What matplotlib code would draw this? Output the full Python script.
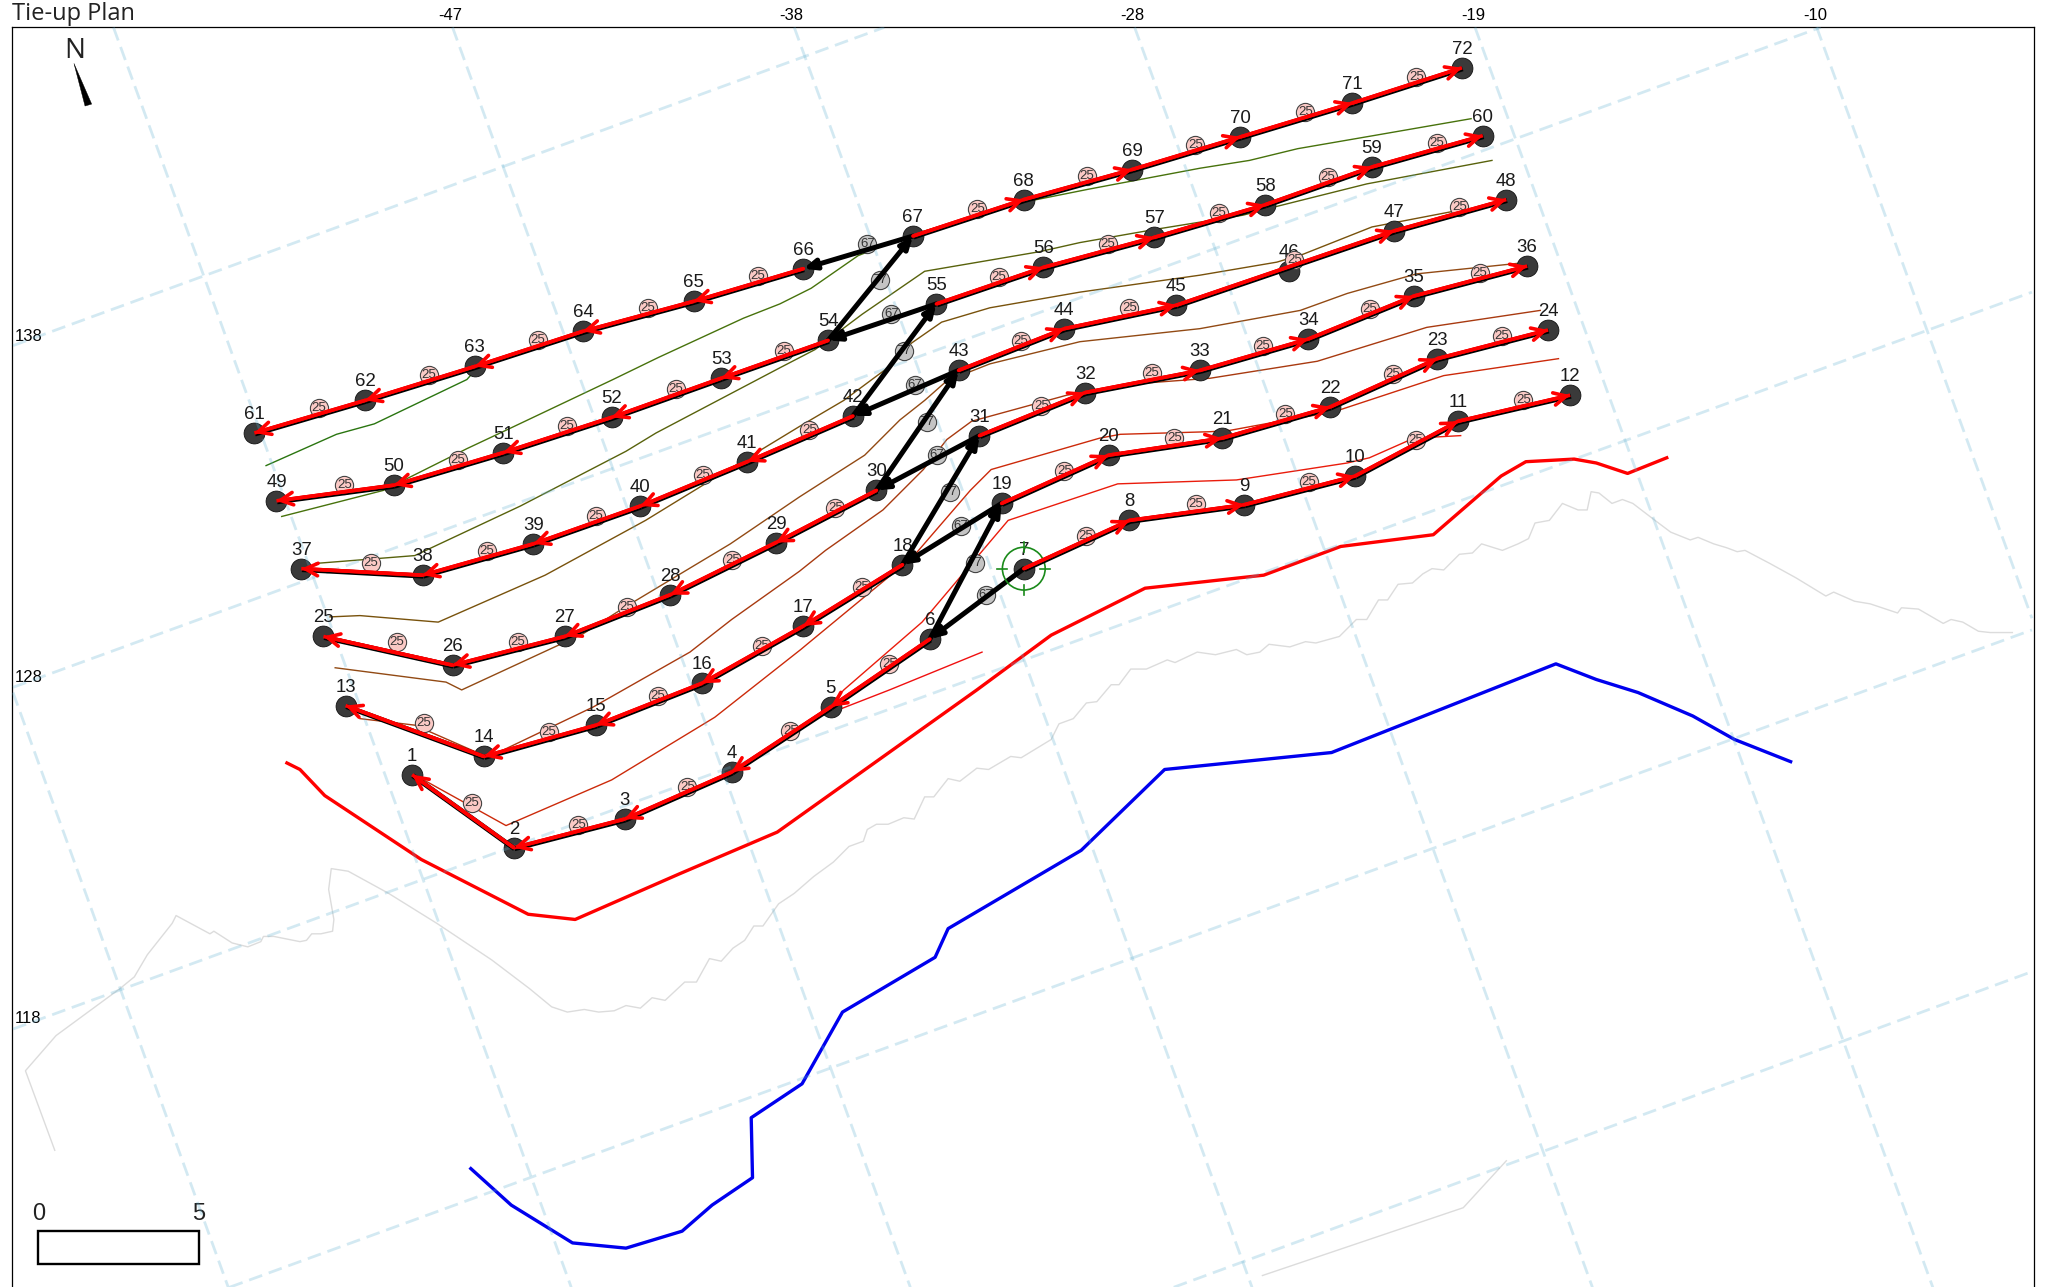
import numpy as np
import matplotlib
matplotlib.use('Agg')
import matplotlib.pyplot as plt
from matplotlib.patches import FancyArrowPatch, Rectangle, Circle, Polygon
import matplotlib.patheffects as pe

plt.rcParams['font.family'] = ['Liberation Sans', 'DejaVu Sans']

# anchor positions, index 0 is anchor 1
node_x = [316, 394, 479, 561, 637, 713, 785, 866, 954, 1039, 1118, 1204,
          265, 371, 457, 538, 616, 692, 768, 850, 937, 1020, 1102, 1187,
          248, 347, 433, 514, 595, 672, 751, 832, 920, 1003, 1084, 1171,
          231, 324, 409, 491, 573, 654, 735, 816, 902, 988, 1069, 1155,
          212, 302, 386, 469, 553, 635, 718, 800, 885, 970, 1052, 1137,
          195, 280, 364, 447, 532, 616, 700, 785, 868, 951, 1037, 1121]
node_y = [594, 650, 628, 592, 542, 490, 436, 399, 387, 365, 323, 303,
          541, 580, 556, 524, 480, 433, 386, 349, 336, 312, 275, 253,
          488, 510, 488, 456, 416, 376, 334, 301, 284, 260, 227, 204,
          436, 441, 417, 388, 354, 319, 284, 252, 234, 208, 177, 153,
          384, 372, 347, 320, 290, 261, 233, 205, 182, 157, 128, 104,
          332, 307, 281, 254, 231, 206, 181, 153, 130, 105, 79, 52]

# mooring runs (anchor numbers)
rows_right = [[7, 8, 9, 10, 11, 12], [19, 20, 21, 22, 23, 24], [31, 32, 33, 34, 35, 36],
              [43, 44, 45, 47, 48], [55, 56, 57, 58, 59, 60], [67, 68, 69, 70, 71, 72]]
rows_left = [[6, 5, 4, 3, 2, 1], [18, 17, 16, 15, 14, 13], [30, 29, 28, 27, 26, 25],
             [42, 41, 40, 39, 38, 37], [54, 53, 52, 51, 50, 49], [66, 65, 64, 63, 62, 61]]
transit = [7, 6, 19, 18, 31, 30, 43, 42, 55, 54, 67, 66]
transit_labels = ['67', '77', '67', '77', '67', '77', '67', '77', '67', '77', '67']
wire_label = '25'
target_node = 7

# tick labels
x_tick_pos = [345, 607, 868, 1130, 1392]
x_tick_labels = ['-47', '-38', '-28', '-19', '-10']
y_tick_pos = [257, 518, 780]
y_tick_labels = ['138', '128', '118']

# dashed grid, (x0, y0, x1, y1)
grid_lines = [(10, 265, 678, 21), (10, 527, 1396, 21), (10, 789, 1558, 224),
              (176, 987, 1558, 483), (900, 987, 1558, 745),
              (10, 531, 175, 987), (87, 21, 438, 987), (347, 21, 698, 987),
              (609, 21, 960, 987), (870, 21, 1221, 987), (1131, 21, 1482, 987),
              (1393, 21, 1558, 474)]

# seabed contours
contour_1 = [(204, 357), (258, 333), (287, 325), (358, 291), (366, 282)]
contour_2 = [(216, 396), (294, 376), (358, 344), (392, 328), (470, 291), (505, 274), (570, 244),
             (598, 233), (622, 221), (658, 196), (699, 180), (785, 155), (835, 145),
             (920, 129), (958, 123), (995, 114), (1053, 104), (1128, 91)]
contour_3 = [(242, 432), (318, 426), (399, 388), (480, 346), (503, 332), (560, 302),
             (598, 282), (625, 268), (661, 241), (709, 208), (797, 193), (828, 186),
             (885, 176), (953, 165), (980, 158), (1048, 141), (1144, 123)]
contour_4 = [(253, 473), (276, 472), (336, 477), (418, 441), (495, 399), (539, 372),
             (613, 327), (647, 307), (682, 281), (699, 263), (722, 247), (759, 236),
             (828, 224), (920, 211), (979, 201), (999, 195), (1052, 174), (1125, 160)]
contour_5 = [(257, 512), (342, 523), (354, 529), (447, 486), (480, 465), (560, 417),
             (613, 381), (663, 349), (690, 322), (709, 307), (726, 292), (759, 279),
             (828, 262), (920, 252), (997, 238), (1033, 225), (1086, 210), (1163, 202)]
contour_6 = [(276, 551), (318, 556), (375, 581), (386, 575), (455, 542), (529, 500), (561, 475),
             (613, 438), (633, 422), (677, 391), (708, 360), (726, 337), (745, 323),
             (818, 303), (874, 294), (928, 290), (1010, 277), (1094, 251), (1181, 238)]
contour_7 = [(314, 592), (388, 633), (469, 598), (548, 550), (614, 498), (620, 493),
             (700, 427), (744, 376), (760, 360), (843, 336), (859, 333), (928, 331),
             (943, 330), (981, 323), (1022, 316), (1107, 288), (1195, 275)]
contour_8 = [(637, 540), (647, 529), (707, 477), (773, 399), (857, 371), (948, 368),
             (1033, 355), (1050, 351), (1084, 336), (1120, 334)]
contour_9 = [(646, 543), (682, 529), (753, 500)]
contour_colors = ['#2a7510', '#47720c', '#58620c', '#78520c', '#924a14', '#a83a10',
                  '#cc2a0a', '#ea1c0c', '#f01010']

# shore outline
coast = [(42, 882), (19.5, 821), (43, 794), (92, 758), (103, 749), (113, 732), (132, 708),
         (135, 702), (161, 716), (164, 714), (178, 723), (190, 726), (200, 722), (202, 718),
         (210, 718), (230, 722), (235, 721), (239, 716), (246, 716), (255, 714), (256, 705),
         (252, 682), (254, 666), (267, 668), (298, 685), (335, 708), (377, 736), (406, 758),
         (423, 772), (435, 776), (448, 774), (459, 776), (471, 775), (480, 771), (491, 773),
         (500, 765), (510, 767), (525, 753), (534, 753), (544, 735), (553, 737), (562, 727),
         (571, 721), (578, 710), (585, 710), (597, 693), (609, 685), (624, 672), (639, 661),
         (651, 649), (662, 645), (665, 636), (672, 632), (681, 632), (693, 627), (701, 628),
         (709, 611), (716, 611), (727, 597), (736, 599), (749, 589), (758, 590), (775, 580),
         (783, 581), (806, 567), (812, 555), (823, 551), (833, 539), (841, 538), (852, 525),
         (858, 525), (867, 513), (879, 513), (895, 506), (901, 508), (918, 500), (932, 502),
         (948, 498), (956, 502), (966, 500), (973, 494), (989, 496), (1001, 492), (1009, 493),
         (1027, 488), (1040, 475), (1048, 475), (1057, 460), (1064, 460), (1072, 448),
         (1083, 447), (1091, 440), (1098, 436), (1107, 437), (1119, 425), (1129, 424),
         (1136, 417), (1152, 422), (1164, 417), (1172, 413), (1177, 401), (1188, 399),
         (1198, 386), (1210, 391), (1217, 391), (1220, 377), (1226, 378), (1236, 386),
         (1244, 383), (1252, 386), (1269, 399), (1281, 408), (1296, 414), (1302, 412),
         (1314, 417), (1324, 420), (1332, 423), (1338, 422), (1357, 432), (1377, 443),
         (1400, 457), (1406, 454), (1422, 461), (1434, 463), (1455, 470), (1458, 466),
         (1471, 467), (1490, 478), (1496, 475), (1505, 477), (1517, 484), (1526, 485),
         (1543, 485)]
coast_2 = [(968, 978), (1122, 926), (1155, 890)]

# limit lines
red_limit = [(220, 585), (230, 590), (249, 610), (323, 659), (405, 701), (441, 705), (521, 670),
             (596, 638), (749, 529), (806, 487), (878, 451), (969, 441), (1028, 419),
             (1099, 410), (1151, 365), (1170, 354), (1207, 352), (1224, 355), (1248, 363),
             (1278, 351)]
blue_limit = [(361, 896), (392, 924), (439, 953), (480, 957), (523, 944), (546, 924), (577, 903),
              (576, 857), (615, 831), (646, 776), (717, 734), (727, 712), (829, 652),
              (893, 590), (1021, 577), (1193, 509), (1224, 521), (1256, 531), (1298, 549),
              (1330, 567), (1373, 584)]

needle = [(56.7, 48.6), (65.2, 81.3), (70.3, 79.8)]

fig = plt.figure(figsize=(20.45, 12.87), dpi=100)
ax = fig.add_axes([12 / 2045, 0, (2034 - 12) / 2045, 1 - 27 / 1287])
ax.set_xlim(9.2, 1559.6)
ax.set_ylim(986.8, 20.7)
for side in ['top', 'left', 'right']:
    ax.spines[side].set_linewidth(0.9)
ax.spines['bottom'].set_visible(False)

ax.xaxis.tick_top()
ax.set_xticks(x_tick_pos)
ax.set_xticklabels(x_tick_labels)
ax.set_yticks(y_tick_pos)
ax.set_yticklabels(y_tick_labels, ha='left')
ax.tick_params(axis='x', length=0, pad=3, labelsize=12)
ax.tick_params(axis='y', length=0, pad=-2, labelsize=12)


def xy(pts):
    a = np.array(pts, dtype=float)
    return a[:, 0], a[:, 1]


# seabed and shore
contours = [contour_1, contour_2, contour_3, contour_4, contour_5, contour_6,
            contour_7, contour_8, contour_9]
for pts, c in zip(contours, contour_colors):
    ax.plot(*xy(pts), color=c, lw=1.0, zorder=2)
ax.plot(*xy(coast), color='#dcdcdc', lw=1.0, zorder=2)
ax.plot(*xy(coast_2), color='#dcdcdc', lw=1.0, zorder=2)
ax.plot(*xy(red_limit), color='#ff0000', lw=2.4, zorder=2)
ax.plot(*xy(blue_limit), color='#0000ee', lw=2.4, zorder=2)

# anchors
node_x = np.array(node_x)
node_y = np.array(node_y)
ax.scatter(node_x, node_y, s=225, c='#3a3a3a', edgecolors='#111111', linewidths=0.6, zorder=3)

# grid sits over the anchors but is see-through
for x0, y0, x1, y1 in grid_lines:
    ax.plot([x0, x1], [y0, y1], color='#5fb0d0', alpha=0.27, lw=2.0,
            linestyle=(0, (5, 2.5)), zorder=3.5)

for i in range(len(node_x)):
    ax.text(node_x[i], node_y[i] - 14.2, str(i + 1), fontsize=13.4, color='#1a1a1a',
            ha='center', va='center', zorder=3.6)


def seg_label(a, b, text, face):
    # label bubble sits up and to the right of the segment middle
    lx = (node_x[a - 1] + node_x[b - 1]) / 2 + 7
    ly = (node_y[a - 1] + node_y[b - 1]) / 2 - 6.5
    ax.scatter([lx], [ly], s=172, c=face, edgecolors='#444444', linewidths=0.8, zorder=4)
    ax.text(lx, ly, text, fontsize=9.5, color='#333333', ha='center', va='center', zorder=4.1)


def red_seg(a, b):
    x0, y0, x1, y1 = node_x[a - 1], node_y[a - 1], node_x[b - 1], node_y[b - 1]
    ax.plot([x0, x1], [y0, y1], color='#ff0000', lw=2.6, zorder=6, solid_capstyle='butt',
            path_effects=[pe.Stroke(linewidth=3.6, foreground='black', offset=(0.5, -0.7)),
                          pe.Normal()])
    ax.add_patch(FancyArrowPatch((x0, y0), (x1, y1), arrowstyle='->,head_length=0.9,head_width=0.45',
                                 mutation_scale=10, color='#ff0000', lw=2.6,
                                 shrinkA=0, shrinkB=0, zorder=7))


for row in rows_right + rows_left:
    for a, b in zip(row[:-1], row[1:]):
        seg_label(a, b, wire_label, '#fac9c5')
        red_seg(a, b)

for a, b, lab in zip(transit[:-1], transit[1:], transit_labels):
    seg_label(a, b, lab, '#c4c4c4')
    ax.add_patch(FancyArrowPatch((node_x[a - 1], node_y[a - 1]), (node_x[b - 1], node_y[b - 1]),
                                 arrowstyle='-|>,head_length=0.7,head_width=0.3',
                                 mutation_scale=10, color='black', lw=3.6,
                                 shrinkA=0, shrinkB=0, zorder=5))

# green target on the first anchor
tx, ty = node_x[target_node - 1], node_y[target_node - 1]
r = 16.4
ax.add_patch(Circle((tx, ty), r, fill=False, edgecolor='#1a8a1a', lw=1.2, zorder=5.5))
for dx, dy in [(1, 0), (-1, 0), (0, 1), (0, -1)]:
    ax.plot([tx + dx * (r - 3.8), tx + dx * (r + 3.8)], [ty + dy * (r - 3.8), ty + dy * (r + 3.8)],
            color='#1a8a1a', lw=1.2, zorder=5.5)

# north arrow
ax.add_patch(Polygon(needle, closed=True, facecolor='black', edgecolor='black', lw=0.3, zorder=5))
ax.text(57.5, 39, 'N', fontsize=20, color='#222222', ha='center', va='center',
        family='Open Sans')

# scale bar
ax.add_patch(Rectangle((29.4, 943.9), 123.4, 25.3, fill=False, edgecolor='black', lw=1.7, zorder=5))
ax.text(29.4, 931, '0', fontsize=17, color='#222222', ha='center', va='center')
ax.text(152.6, 931, '5', fontsize=17, color='#222222', ha='center', va='center')

ax.text(9.5, 15.3, 'Tie-up Plan', fontsize=17, color='#222222', ha='left', va='baseline',
        family='Open Sans', clip_on=False)

plt.savefig('out.png', dpi=100)
